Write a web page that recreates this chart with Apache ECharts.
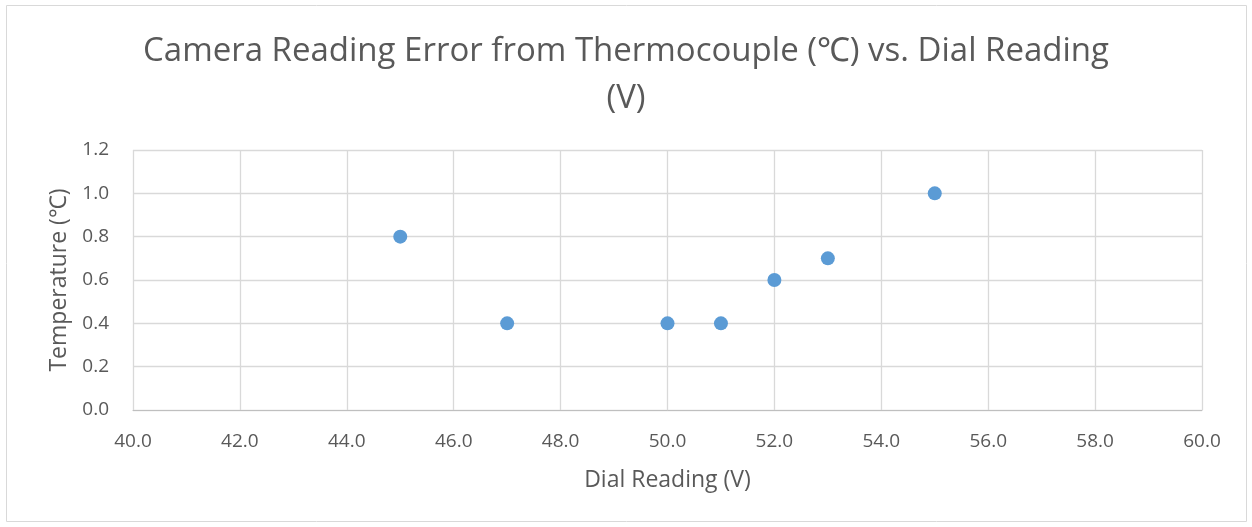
<!DOCTYPE html>
<html><head><meta charset="utf-8">
<script src="https://cdn.jsdelivr.net/npm/echarts@6/dist/echarts.min.js"></script>
<style>html,body{margin:0;padding:0;background:#fff}#c{width:1252px;height:527px}</style>
</head><body><div id="c"></div>
<script>
const xValues = [45, 47, 50, 51, 52, 53, 55];
const yValues = [0.8, 0.4, 0.4, 0.4, 0.6, 0.7, 1.0];
const titleText = 'Camera Reading Error from Thermocouple (\u2103) vs. Dial Reading\n(V)';
const xName = 'Dial Reading (V)';
const yName = 'Temperature (\u2103)';
const data = xValues.map((x, i) => [x, yValues[i]]);
const chart = echarts.init(document.getElementById('c'));
const font = "'Open Sans', 'Noto Sans', sans-serif";
chart.setOption({
  animation: false,
  graphic: [{type:'rect', shape:{x:6.5,y:5.5,width:1240,height:516}, style:{fill:'none', stroke:'#d9d9d9', lineWidth:1}, silent:true}],
  title: {text: titleText, left: 'center', top: 23, textStyle:{fontFamily:font, fontSize:33, fontWeight:'normal', color:'#595959', lineHeight:47}},
  grid: {left:133, right:50, top:150, bottom:117},
  xAxis: {type:'value', min:40, max:60, interval:2, name:xName, nameLocation:'middle', nameGap:59,
    nameTextStyle:{fontFamily:font, fontSize:23, color:'#595959'},
    axisLine:{lineStyle:{color:'#bfbfbf'}}, axisTick:{show:false},
    axisLabel:{fontFamily:font, fontSize:19, color:'#595959', margin:22, formatter:v=>v.toFixed(1)},
    splitLine:{lineStyle:{color:'#d9d9d9', width:1.3}}},
  yAxis: {type:'value', min:0, max:1.2, interval:0.2, name:yName, nameLocation:'middle', nameGap:62,
    nameTextStyle:{fontFamily:font, fontSize:23, color:'#595959'},
    axisLine:{show:false}, axisTick:{show:false},
    axisLabel:{fontFamily:font, fontSize:19, color:'#595959', margin:24, formatter:v=>v.toFixed(1)},
    splitLine:{lineStyle:{color:'#d9d9d9', width:1.3}}},
  series: [{type:'scatter', data:data, symbolSize:14, itemStyle:{color:'#5B9BD5', opacity:1}}]
});
</script></body></html>
